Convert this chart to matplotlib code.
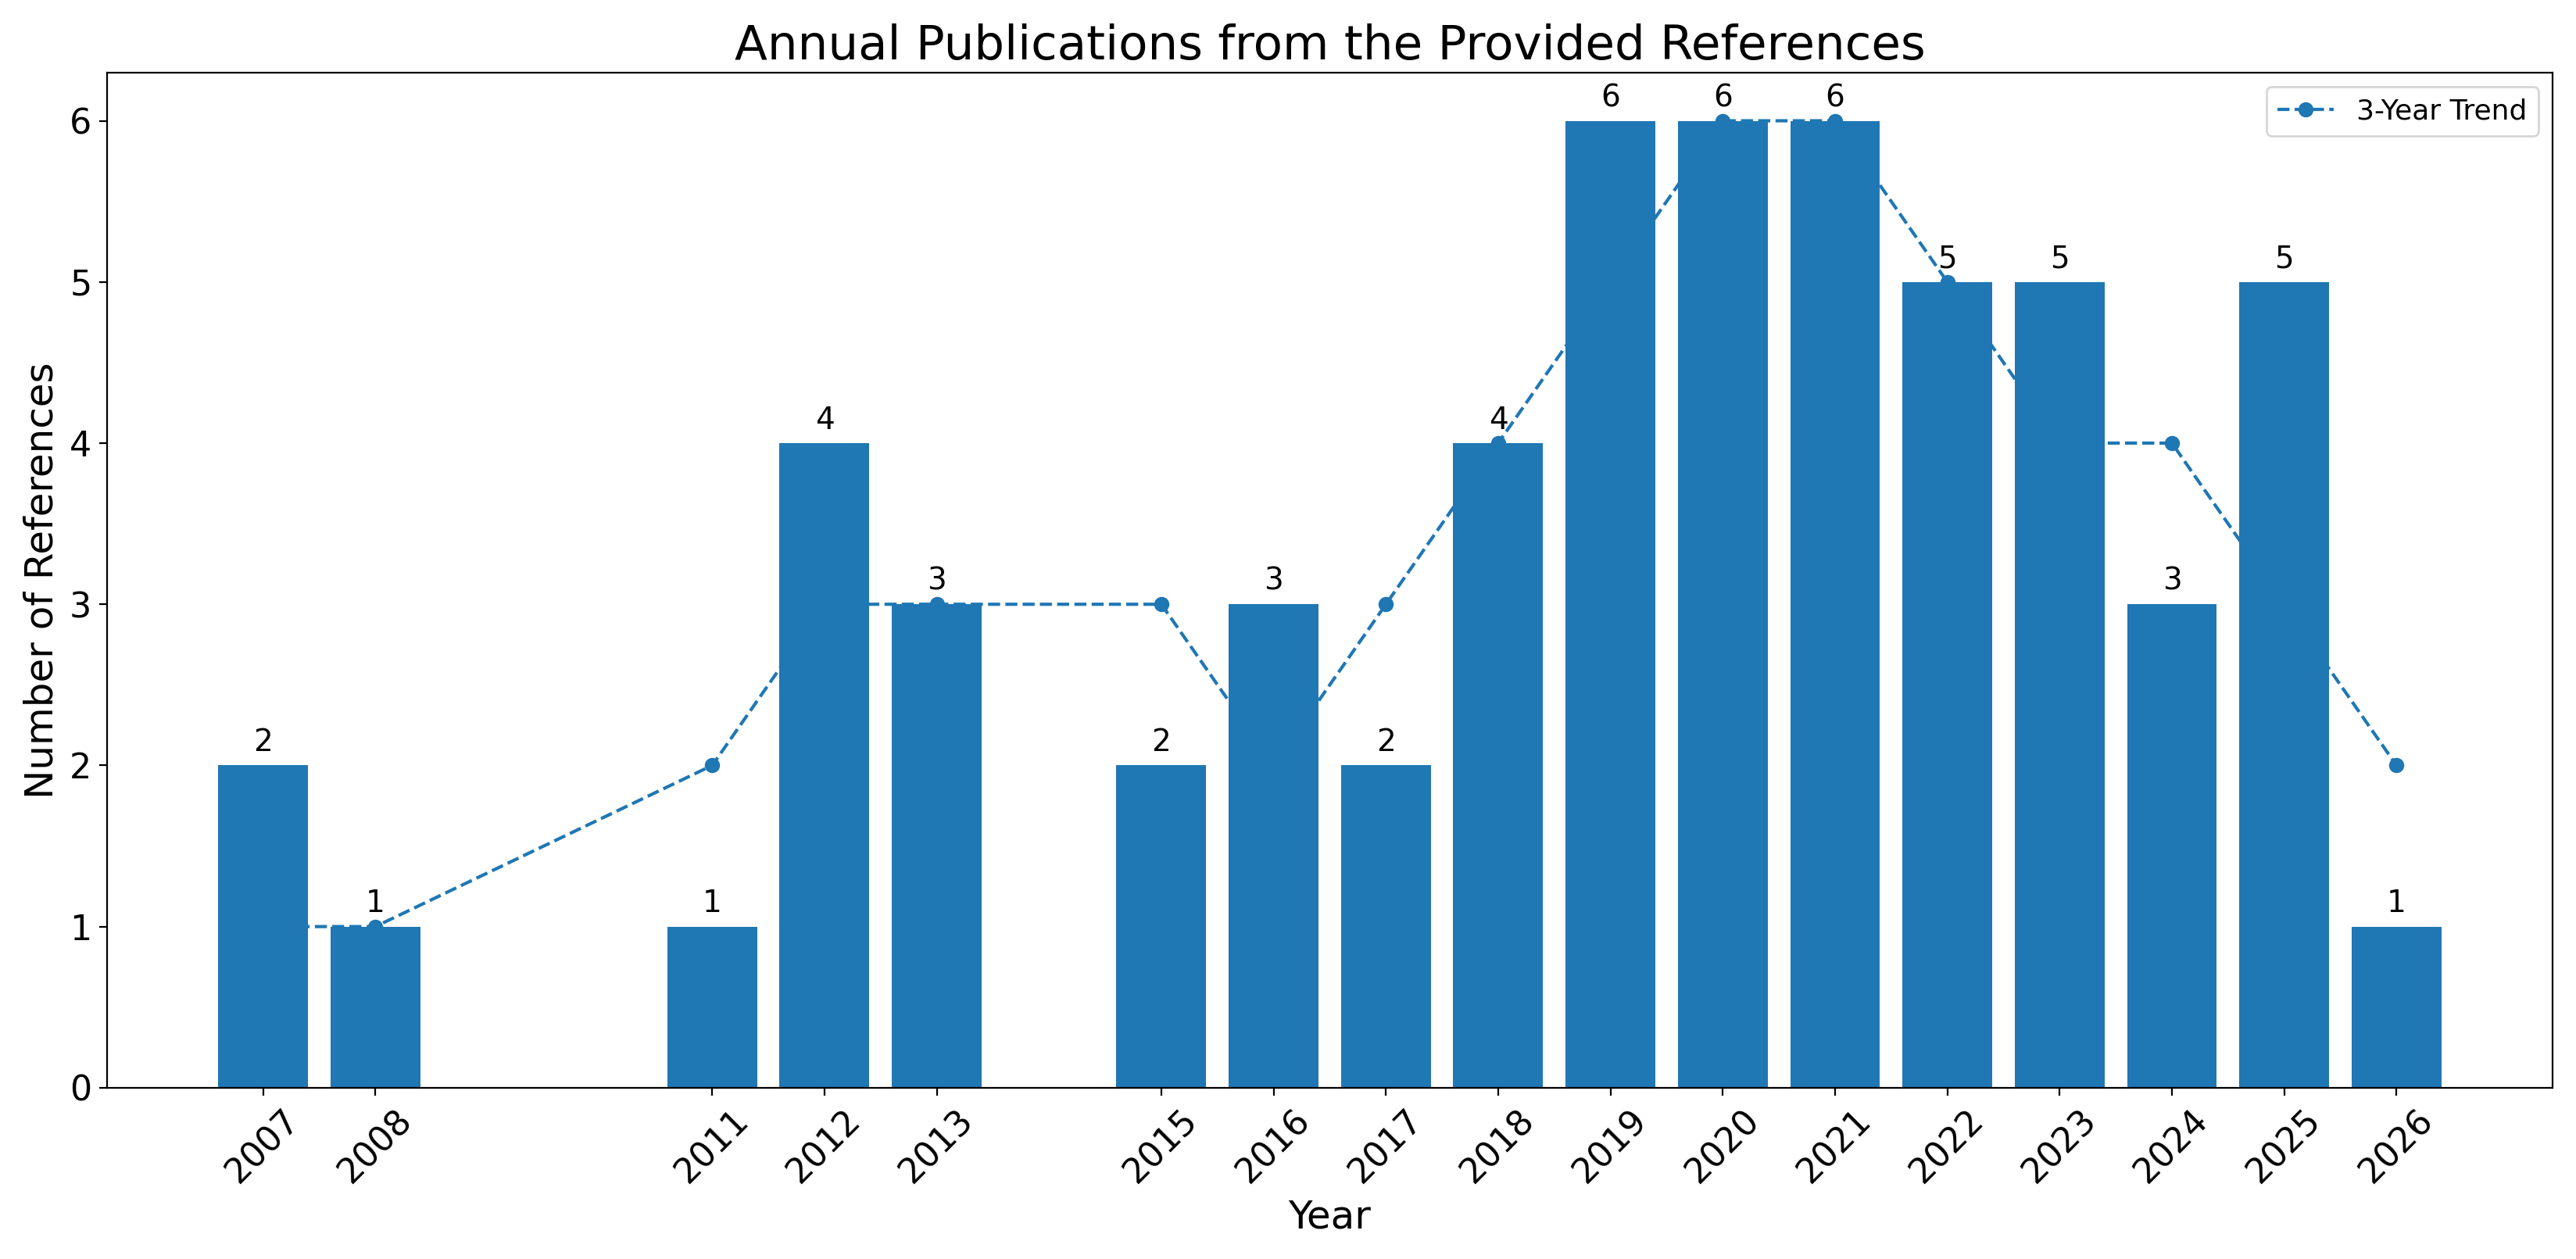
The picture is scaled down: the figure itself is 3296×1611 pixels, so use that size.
import matplotlib
matplotlib.use("Agg")
import matplotlib.pyplot as plt

years = [2007, 2008, 2011, 2012, 2013, 2015, 2016, 2017, 2018,
         2019, 2020, 2021, 2022, 2023, 2024, 2025, 2026]
counts = [2, 1, 1, 4, 3, 2, 3, 2, 4, 6, 6, 6, 5, 5, 3, 5, 1]
trend = [1, 1, 2, 3, 3, 3, 2, 3, 4, 5, 6, 6, 5, 4, 4, 3, 2]

fig, ax = plt.subplots(figsize=(16.48, 8.055), dpi=200)
ax.plot(years, trend, "o--", color="#1f77b4", label="3-Year Trend", zorder=1)
bars = ax.bar(years, counts, color="#1f77b4", width=0.8, zorder=2)
for b, c in zip(bars, counts):
    ax.text(b.get_x() + b.get_width() / 2, c + 0.05, str(c),
            ha="center", va="bottom", fontsize=14)

ax.set_xticks(years)
ax.set_xticklabels([str(y) for y in years], rotation=45, fontsize=16)
ax.tick_params(axis="y", labelsize=16)
ax.set_ylim(0, 6.3)
ax.set_xlabel("Year", fontsize=18)
ax.set_ylabel("Number of References", fontsize=18)
ax.set_title("Annual Publications from the Provided References", fontsize=22)
ax.legend(loc="upper right", fontsize=13)
fig.tight_layout()
fig.savefig("out.png", dpi=200)
